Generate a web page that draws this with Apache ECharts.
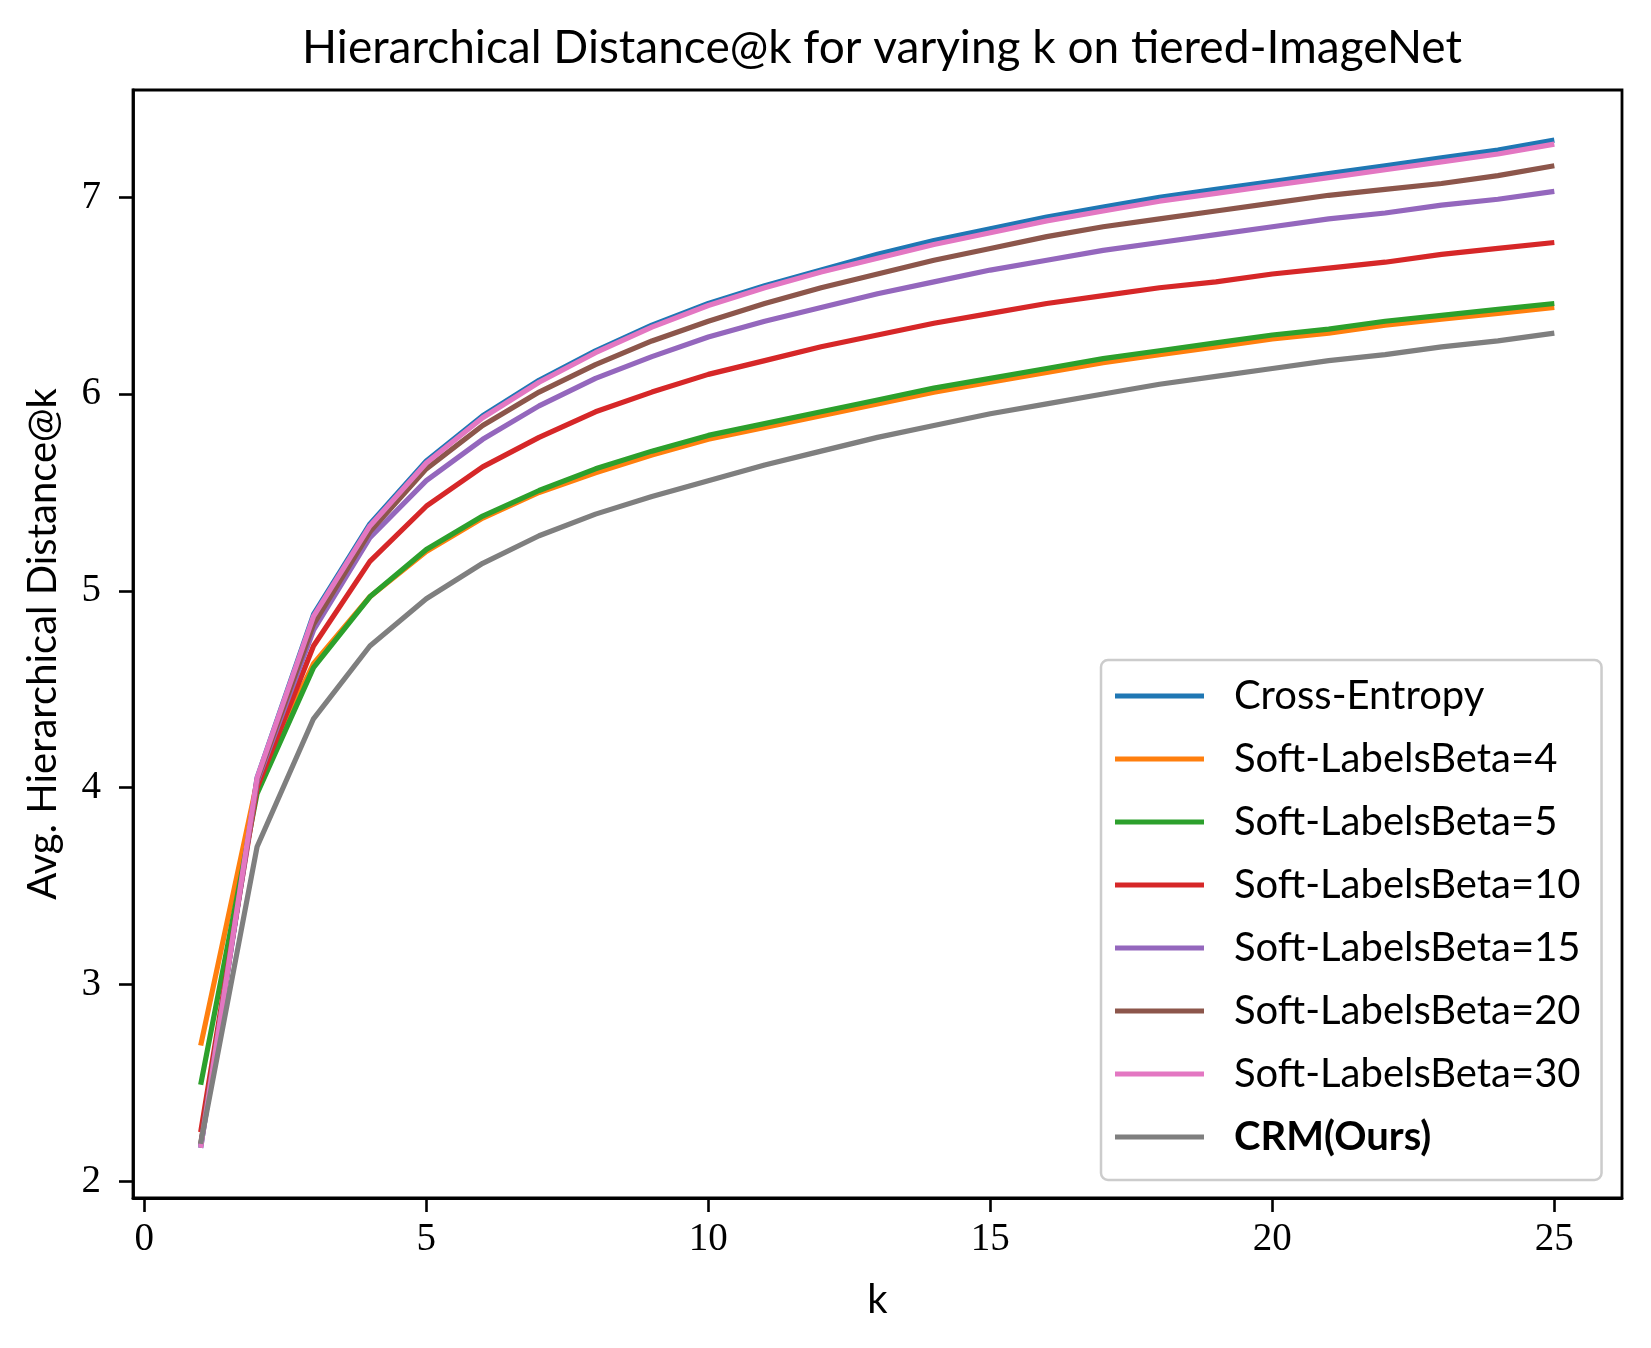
<!DOCTYPE html>
<html>
<head>
<meta charset="utf-8">
<script src="https://cdn.jsdelivr.net/npm/echarts@6/dist/echarts.min.js"></script>
<style>
html,body{margin:0;padding:0;background:#fff;}
#chart{width:1651px;height:1348px;}
</style>
</head>
<body>
<div id="chart"></div>
<script>
const ks = [1,2,3,4,5,6,7,8,9,10,11,12,13,14,15,16,17,18,19,20,21,22,23,24,25];
const crossEntropy = [2.17,4.05,4.88,5.34,5.66,5.89,6.07,6.22,6.35,6.46,6.55,6.63,6.71,6.78,6.84,6.90,6.95,7.00,7.04,7.08,7.12,7.16,7.20,7.24,7.29];
const beta4  = [2.69,4.03,4.63,4.97,5.20,5.37,5.50,5.60,5.69,5.77,5.83,5.89,5.95,6.01,6.06,6.11,6.16,6.20,6.24,6.28,6.31,6.35,6.38,6.41,6.44];
const beta5  = [2.49,3.97,4.61,4.97,5.21,5.38,5.51,5.62,5.71,5.79,5.85,5.91,5.97,6.03,6.08,6.13,6.18,6.22,6.26,6.30,6.33,6.37,6.40,6.43,6.46];
const beta10 = [2.25,4.00,4.72,5.15,5.43,5.63,5.78,5.91,6.01,6.10,6.17,6.24,6.30,6.36,6.41,6.46,6.50,6.54,6.57,6.61,6.64,6.67,6.71,6.74,6.77];
const beta15 = [2.18,4.03,4.80,5.27,5.56,5.77,5.94,6.08,6.19,6.29,6.37,6.44,6.51,6.57,6.63,6.68,6.73,6.77,6.81,6.85,6.89,6.92,6.96,6.99,7.03];
const beta20 = [2.19,4.04,4.83,5.30,5.62,5.84,6.01,6.15,6.27,6.37,6.46,6.54,6.61,6.68,6.74,6.80,6.85,6.89,6.93,6.97,7.01,7.04,7.07,7.11,7.16];
const beta30 = [2.17,4.05,4.87,5.33,5.65,5.88,6.06,6.21,6.34,6.45,6.54,6.62,6.69,6.76,6.82,6.88,6.93,6.98,7.02,7.06,7.10,7.14,7.18,7.22,7.27];
const crm    = [2.19,3.70,4.35,4.72,4.96,5.14,5.28,5.39,5.48,5.56,5.64,5.71,5.78,5.84,5.90,5.95,6.00,6.05,6.09,6.13,6.17,6.20,6.24,6.27,6.31];

const seriesNames = ['Cross-Entropy','Soft-LabelsBeta=4','Soft-LabelsBeta=5','Soft-LabelsBeta=10','Soft-LabelsBeta=15','Soft-LabelsBeta=20','Soft-LabelsBeta=30','CRM(Ours)'];
const seriesValues = [crossEntropy,beta4,beta5,beta10,beta15,beta20,beta30,crm];
const colors = ['#1f77b4','#ff7f0e','#2ca02c','#d62728','#9467bd','#8c564b','#e377c2','#7f7f7f'];
const xTicks = [0,5,10,15,20,25];
const yTicks = [2,3,4,5,6,7];

const sansFont = 'Lato';
const serifFont = 'Liberation Serif';

const chart = echarts.init(document.getElementById('chart'), null, {renderer:'canvas'});
const series = seriesNames.map((name,i)=>({
  name: name,
  type: 'line',
  data: ks.map((k,j)=>[k, seriesValues[i][j]]),
  showSymbol: false,
  symbol: 'none',
  animation: false,
  lineStyle: {color: colors[i], width: 5.2},
  itemStyle: {color: colors[i]}
}));

chart.setOption({
  animation: false,
  title: {
    text: 'Hierarchical Distance@k for varying k on tiered-ImageNet',
    left: 877, top: 20, textAlign: 'center',
    textStyle: {fontFamily: sansFont, fontSize: 46, fontWeight: 'normal', color: '#000'}
  },
  grid: {left: 133, right: 29, top: 90, bottom: 150, show: true, borderColor: '#000', borderWidth: 2.8, containLabel: false},
  xAxis: {
    type: 'value', min: -0.2, max: 26.2,
    name: 'k', nameLocation: 'middle', nameGap: 82,
    nameTextStyle: {fontFamily: sansFont, fontSize: 40, color: '#000'},
    axisLine: {show: true, onZero: false, lineStyle: {color: '#000', width: 2.8}},
    axisTick: {show: true, length: 14, lineStyle: {color:'#000', width: 2.6}, customValues: xTicks},
    axisLabel: {fontFamily: serifFont, fontSize: 39, color: '#000', margin: 22, customValues: xTicks},
    splitLine: {show: false}
  },
  yAxis: {
    type: 'value', min: 1.915, max: 7.545,
    name: 'Avg. Hierarchical Distance@k', nameLocation: 'middle', nameGap: 70, nameRotate: 90,
    nameTextStyle: {fontFamily: sansFont, fontSize: 40, color: '#000'},
    axisLine: {show: true, onZero: false, lineStyle: {color: '#000', width: 2.8}},
    axisTick: {show: true, length: 14, lineStyle: {color:'#000', width: 2.6}, customValues: yTicks},
    axisLabel: {fontFamily: serifFont, fontSize: 39, color: '#000', margin: 32, customValues: yTicks},
    splitLine: {show: false}
  },
  legend: {
    orient: 'vertical',
    left: 1101, top: 660,
    padding: [15, 21, 22, 14],
    itemWidth: 89, itemHeight: 5, itemGap: 21,
    icon: 'rect',
    borderColor: '#cccccc', borderWidth: 2.5, borderRadius: 7,
    backgroundColor: 'rgba(255,255,255,0.8)',
    data: seriesNames.map((n,i)=> i===7 ? {name:n, textStyle:{fontWeight:'bold'}} : {name:n}),
    textStyle: {fontFamily: sansFont, fontSize: 40, lineHeight: 42, color: '#000', padding: [0,0,0,25]}
  },
  series: series
});
</script>
</body>
</html>
